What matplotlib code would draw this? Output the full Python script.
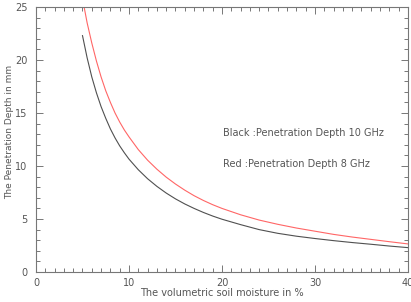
import matplotlib.pyplot as plt
from matplotlib.ticker import MultipleLocator

# soil moisture (%) and penetration depth (mm)
moisture = [5, 5.5, 6, 6.5, 7, 7.5, 8, 8.5, 9, 9.5, 10, 11, 12, 13, 14, 15,
            16, 17, 18, 19, 20, 22, 24, 26, 28, 30, 32, 34, 36, 38, 40]
depth_10ghz = [22.3, 20.2, 18.4, 16.9, 15.6, 14.5, 13.5, 12.65, 11.9, 11.25,
               10.65, 9.65, 8.8, 8.08, 7.45, 6.9, 6.42, 6.0, 5.62, 5.28, 4.98,
               4.47, 4.0, 3.65, 3.38, 3.16, 2.96, 2.78, 2.62, 2.45, 2.3]
depth_8ghz = [25.8, 23.5, 21.6, 19.9, 18.4, 17.1, 16.0, 15.0, 14.15, 13.4,
              12.75, 11.55, 10.55, 9.7, 8.95, 8.3, 7.72, 7.2, 6.75, 6.35, 6.0,
              5.4, 4.9, 4.5, 4.15, 3.85, 3.55, 3.3, 3.08, 2.86, 2.65]

label_black = "Black :Penetration Depth 10 GHz"
label_red = "Red :Penetration Depth 8 GHz"

gray = "#555555"

fig = plt.figure(figsize=(4.11, 3.02), dpi=100)
ax = fig.add_axes([0.0876, 0.0993, 0.905, 0.8775])

ax.plot(moisture, depth_10ghz, color="#505050", lw=0.8)
ax.plot(moisture, depth_8ghz, color="#ff6666", lw=0.8)

ax.set_xlim(0, 40)
ax.set_ylim(0, 25)

# IDL-like frame: ticks inside on all four sides
ax.xaxis.set_major_locator(MultipleLocator(10))
ax.xaxis.set_minor_locator(MultipleLocator(1))
ax.yaxis.set_major_locator(MultipleLocator(5))
ax.yaxis.set_minor_locator(MultipleLocator(1))
ax.tick_params(which="both", direction="in", top=True, right=True,
               color="#777777", width=0.7, labelsize=7, labelcolor=gray)
ax.tick_params(which="major", length=5)
ax.tick_params(which="minor", length=3)
ax.tick_params(axis="x", which="major", pad=4)
ax.tick_params(axis="y", which="major", pad=6)
for sp in ax.spines.values():
    sp.set_color("#777777")
    sp.set_linewidth(0.8)

ax.set_xlabel("The volumetric soil moisture in %", fontsize=7, color=gray, labelpad=0)
ax.set_ylabel("The Penetration Depth in mm", fontsize=6.5, color=gray)
ax.yaxis.set_label_coords(-0.06, 0.53)

ax.text(20.1, 13.1, label_black, fontsize=7, color=gray, va="center")
ax.text(20.1, 10.2, label_red, fontsize=7, color=gray, va="center")

fig.savefig("out.png", dpi=100)
